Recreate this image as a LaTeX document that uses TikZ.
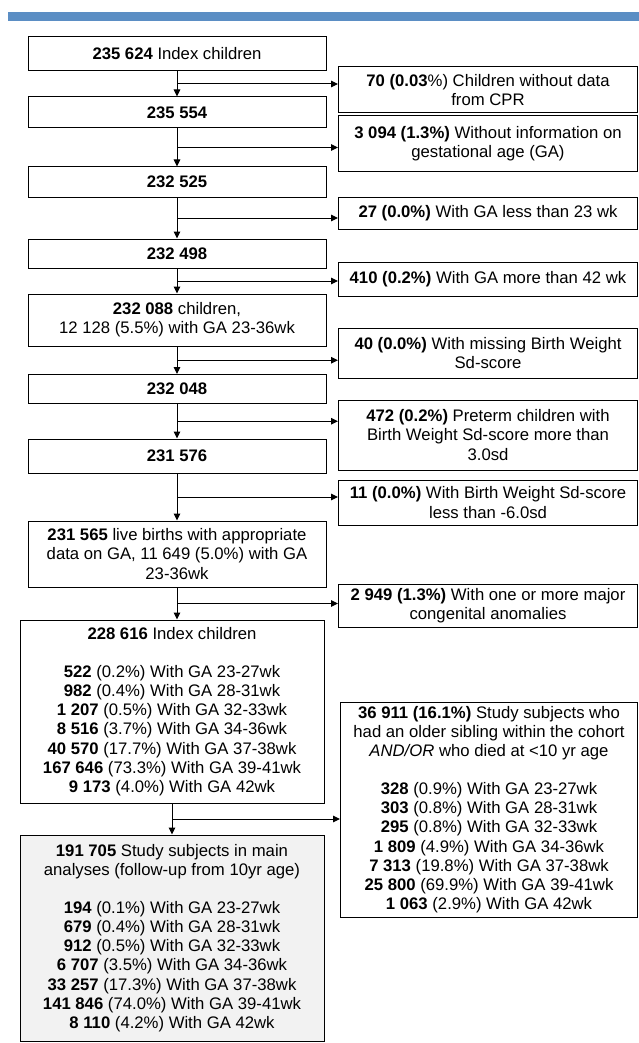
\documentclass[tikz,border=0pt]{standalone}
\usepackage{fontspec}
\setmainfont{Liberation Sans}
\usetikzlibrary{arrows.meta, positioning, calc}
\definecolor{barblue}{RGB}{91,142,196}
\definecolor{boxgray}{RGB}{242,242,242}

\begin{document}
\begin{tikzpicture}[
    x=1pt,
    y=-1pt,
    box/.style={rectangle, draw=black, line width=1pt, fill=white, align=center, inner sep=0pt, minimum width=298pt, font=\fontsize{16.7}{19.1}\selectfont},
    sidebox/.style={box, minimum width=299pt},
    arr/.style={draw=black, line width=1pt, -{Triangle[length=7pt, width=6.5pt]}}
]
\useasboundingbox (0,0) rectangle (639,1043);

% Header bar
\fill[barblue] (8,12) rectangle (639,21);

% Main column
\node [box, minimum height=34pt] (b1) at (177,54) {\textbf{235 624} Index children};
\node [box, minimum height=31pt] (b2) at (177,112.5) {\textbf{235 554}};
\node [box, minimum height=30pt] (b3) at (177,182) {\textbf{232 525}};
\node [box, minimum height=29pt] (b4) at (177,253.5) {\textbf{232 498}};
\node [box, minimum height=52pt] (b5) at (177,320) {\textbf{232 088} children,\\12 128 (5.5\%) with GA 23-36wk};
\node [box, minimum height=29pt] (b6) at (177,389) {\textbf{232 048}};
\node [box, minimum height=34pt] (b7) at (177,456) {\textbf{231 576}};
\node [box, minimum height=66pt] (b8) at (177,554) {\textbf{231 565} live births with appropriate\\data on GA, 11 649 (5.0\%) with GA\\23-36wk};
\node [box, minimum width=304pt, minimum height=183pt] (b9) at (172,711.5) {\textbf{228 616} Index children\\[19.1pt]
    \textbf{522} (0.2\%) With GA 23-27wk\\
    \textbf{982} (0.4\%) With GA 28-31wk\\
    \textbf{1 207} (0.5\%) With GA 32-33wk\\
    \textbf{8 516} (3.7\%) With GA 34-36wk\\
    \textbf{40 570} (17.7\%) With GA 37-38wk\\
    \textbf{167 646} (73.3\%) With GA 39-41wk\\
    \textbf{9 173} (4.0\%) With GA 42wk};
\node [box, minimum width=304pt, minimum height=206pt, fill=boxgray] (b10) at (172,938) {\textbf{191 705} Study subjects in main\\analyses (follow-up from 10yr age)\\[19.1pt]
    \textbf{194} (0.1\%) With GA 23-27wk\\
    \textbf{679} (0.4\%) With GA 28-31wk\\
    \textbf{912} (0.5\%) With GA 32-33wk\\
    \textbf{6 707} (3.5\%) With GA 34-36wk\\
    \textbf{33 257} (17.3\%) With GA 37-38wk\\
    \textbf{141 846} (74.0\%) With GA 39-41wk\\
    \textbf{8 110} (4.2\%) With GA 42wk};

% Exclusions
\node [sidebox, minimum height=46pt] (r1) at (488,90) {\textbf{70 (0.03}\%) Children without data\\from CPR};
\node [sidebox, minimum height=56pt] (r2) at (488,144) {\textbf{3 094 (1.3\%)} Without information on\\gestational age (GA)};
\node [sidebox, minimum height=32pt] (r3) at (488,213) {\textbf{27 (0.0\%)} With GA less than 23 wk};
\node [sidebox, minimum height=34pt] (r4) at (488,279) {\textbf{410 (0.2\%)} With GA more than 42 wk};
\node [sidebox, minimum height=50pt] (r5) at (488,353) {\textbf{40 (0.0\%)} With missing Birth Weight\\Sd-score};
\node [sidebox, minimum height=70pt] (r6) at (488,435) {\textbf{472 (0.2\%)} Preterm children with\\Birth Weight Sd-score more than\\3.0sd};
\node [sidebox, minimum height=45pt] (r7) at (488,502.5) {\textbf{11 (0.0\%)} With Birth Weight Sd-score\\less than -6.0sd};
\node [sidebox, minimum height=43pt] (r8) at (488,605.5) {\textbf{2 949 (1.3\%)} With one or more major\\congenital anomalies};
\node [sidebox, minimum width=297pt, minimum height=215pt] (r9) at (489,809.5) {\textbf{36 911 (16.1\%)} Study subjects who\\had an older sibling within the cohort\\\textit{AND/OR} who died at <10 yr age\\[19.1pt]
    \textbf{328} (0.9\%) With GA 23-27wk\\
    \textbf{303} (0.8\%) With GA 28-31wk\\
    \textbf{295} (0.8\%) With GA 32-33wk\\
    \textbf{1 809} (4.9\%) With GA 34-36wk\\
    \textbf{7 313} (19.8\%) With GA 37-38wk\\
    \textbf{25 800} (69.9\%) With GA 39-41wk\\
    \textbf{1 063} (2.9\%) With GA 42wk};

% Arrows
\foreach \a/\b in {1/2, 2/3, 3/4, 4/5, 5/6, 6/7, 7/8, 8/9, 9/10} {
    \coordinate (t\a) at (b\a.south |- b\b.north);
    \draw[arr] (b\a.south) -- (t\a);
    \coordinate (j\a) at ($(b\a.south)!0.5!(t\a)$);
    \draw[arr] (j\a) -- (j\a -| r\a.west);
}

\end{tikzpicture}
\end{document}
